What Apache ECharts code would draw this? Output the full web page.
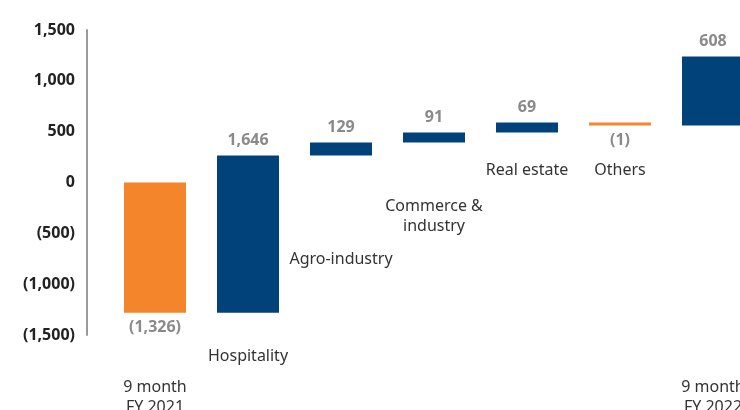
<!DOCTYPE html>
<html>
<head>
<meta charset="utf-8">
<script src="https://cdn.jsdelivr.net/npm/echarts@6/dist/echarts.min.js"></script>
<style>html,body{margin:0;padding:0;background:#fff;}#c{width:740px;height:410px;}</style>
</head>
<body>
<div id="c"></div>
<script>
// ---- data ----
const categories = ['9 month\nFY 2021', 'Hospitality', 'Agro-industry', 'Commerce &\nindustry', 'Real estate', 'Others', '9 month\nFY 2022'];
const valueLabels = ['(1,326)', '1,646', '129', '91', '69', '(1)', '608'];
const barLow  = [-1280, -1280, 265, 393, 492, 560, 560];
const barHigh = [0, 265, 393, 492, 590, 590, 1239];
const changeSign = [-1, 1, 1, 1, 1, -1, 1];
const yMin = -1500, yMax = 1500, yStep = 500;

const NAVY = '#02427a', ORANGE = '#f4852b';
const FONT = 'Noto Sans';

const baseData = barLow.map(v => v);
const deltaData = barHigh.map((h, i) => ({
  value: h - barLow[i],
  itemStyle: { color: changeSign[i] < 0 ? ORANGE : NAVY },
  label: { position: changeSign[i] < 0 ? 'bottom' : 'top' }
}));

function fmtY(v) {
  const s = Math.abs(v).toLocaleString('en-US');
  return v < 0 ? '(' + s + ')' : s;
}

// category label tiers (which categories each axis shows, and at what distance)
const tiers = [
  { idx: [0, 6], inside: false, margin: 42 },
  { idx: [1], inside: false, margin: 11 },
  { idx: [2], inside: true, margin: 66 },
  { idx: [3], inside: true, margin: 99 },
  { idx: [4, 5], inside: true, margin: 155 }
];

const xAxes = tiers.map(t => ({
  type: 'category',
  data: categories,
  gridIndex: 0,
  position: 'bottom',
  boundaryGap: true,
  axisLine: { show: false, onZero: false },
  axisTick: { show: false },
  splitLine: { show: false },
  axisLabel: {
    interval: 0,
    inside: t.inside,
    margin: t.margin,
    color: '#333',
    fontFamily: FONT,
    fontSize: 16,
    lineHeight: 20,
    hideOverlap: false,
    formatter: (v, i) => t.idx.indexOf(i) >= 0 ? v : ''
  }
}));

const chart = echarts.init(document.getElementById('c'));
chart.setOption({
  animation: false,
  grid: { left: 108.5, width: 651, top: 30, bottom: 75, containLabel: false, outerBoundsMode: 'none' },
  xAxis: xAxes,
  yAxis: {
    type: 'value',
    min: yMin, max: yMax, interval: yStep,
    offset: 21.5,
    axisLine: { show: true, lineStyle: { color: '#9a9a9a', width: 2 } },
    axisTick: { show: false },
    splitLine: { show: false },
    axisLabel: {
      margin: 12,
      color: '#222',
      fontFamily: FONT,
      fontWeight: 'bold',
      fontSize: 16,
      formatter: fmtY
    }
  },
  series: [
    {
      type: 'bar', xAxisIndex: 0, stack: 'w', stackStrategy: 'all',
      data: baseData, barWidth: 62, silent: true,
      itemStyle: { color: 'rgba(0,0,0,0)' }
    },
    {
      type: 'bar', xAxisIndex: 0, stack: 'w', stackStrategy: 'all',
      data: deltaData, barWidth: 62,
      label: {
        show: true, distance: 7,
        color: '#8a8a8a', fontFamily: FONT, fontWeight: 'bold', fontSize: 16,
        formatter: p => valueLabels[p.dataIndex]
      }
    }
  ]
});
</script>
</body>
</html>
